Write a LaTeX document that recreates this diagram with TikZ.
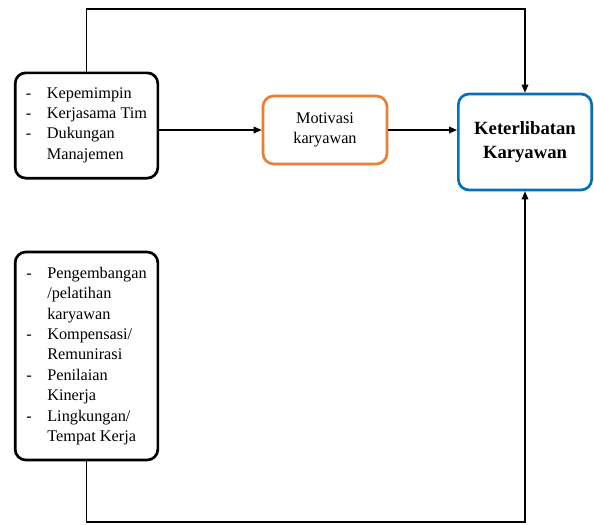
\documentclass[tikz,border=0pt]{standalone}
\usepackage{fontspec}
\setmainfont{Liberation Serif}
\usepackage{tikz}
\usetikzlibrary{arrows.meta}
\definecolor{oranye}{HTML}{ED7D31}
\definecolor{biru}{HTML}{0070C0}
\newcommand{\dsh}{\makebox[15.75pt][l]{-}}
\newcommand{\ind}{\hspace*{15.75pt}}

\begin{document}
\begin{tikzpicture}[x=0.75pt,y=-0.75pt,
  kotak/.style={draw,line width=2pt,rounded corners=8pt,align=left,
    font=\fontsize{12.2}{15.3}\selectfont},
  panah/.style={line width=0.9pt,-{Triangle[length=6pt,width=5pt]}}]

  \useasboundingbox (0,0) rectangle (594,525);

  \node[kotak,minimum width=107pt,minimum height=79pt] (kep) at (86.5,125.5)
    {\dsh Kepemimpin\\ \dsh Kerjasama Tim\\ \dsh Dukungan\\ \ind Manajemen\\[-12pt]};
  \node[kotak,minimum width=107pt,minimum height=156pt] (pen) at (86.5,356)
    {\dsh Pengembangan\\ \ind /pelatihan\\ \ind karyawan\\
     \dsh Kompensasi/\\ \ind Remunirasi\\ \dsh Penilaian\\ \ind Kinerja\\
     \dsh Lingkungan/\\ \ind Tempat Kerja};
  \node[kotak,draw=oranye,align=center,minimum width=93pt,minimum height=51pt] (mot) at (325,130)
    {Motivasi\\karyawan};
  \node[kotak,draw=biru,align=center,minimum width=100pt,minimum height=72pt,
    font=\fontsize{14}{17.5}\selectfont\bfseries] (ket) at (525,142)
    {Keterlibatan\\Karyawan};

  \coordinate (atasKiri) at (86.5,9);
  \coordinate (atasKanan) at (525,9);
  \coordinate (bawahKiri) at (86.5,522);
  \coordinate (bawahKanan) at (525,522);

  \draw[panah] (kep.north) -- (atasKiri) -- (atasKanan) -- (ket.north);
  \draw[panah] (pen.south) -- (bawahKiri) -- (bawahKanan) -- (ket.south);
  \draw[panah] (kep.east |- mot.west) -- (mot.west);
  \draw[panah] (mot.east) -- (mot.east -| ket.west);
  %\draw[panah] (pen.east) -- (mot.south);

\end{tikzpicture}
\end{document}
